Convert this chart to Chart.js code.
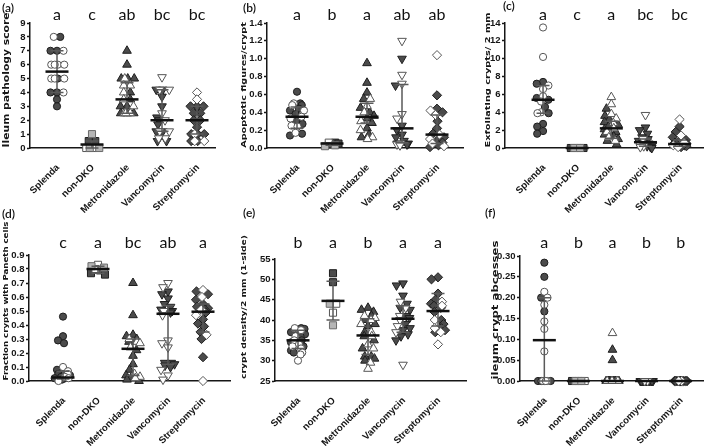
<!DOCTYPE html>
<html>
<head>
<meta charset="utf-8">
<script src="https://cdn.jsdelivr.net/npm/chart.js@4.4.1/dist/chart.umd.min.js"></script>
<style>
  html, body { margin: 0; padding: 0; background: #fff; }
  #fig { position: relative; width: 709px; height: 446px; overflow: hidden; }
  #fig canvas { position: absolute; }
  .tag { position: absolute; font: 600 12px Lato, sans-serif; color: #111; }
</style>
</head>
<body>
<div id="fig">
  <canvas id="pA"></canvas>
  <canvas id="pB"></canvas>
  <canvas id="pC"></canvas>
  <canvas id="pD"></canvas>
  <canvas id="pE"></canvas>
  <canvas id="pF"></canvas>
</div>
<script>
// ---- data ----
const categories = ["Splenda", "non-DKO", "Metronidazole", "Vancomycin", "Streptomycin"];

// (a) ileum pathology score
const pathTicks = ["0", "1", "2", "3", "4", "5", "6", "7", "8", "9"];
const pathDark = [[8, 7, 7, 5, 4, 4, 3.5, 3], [0.5, 0.5], [7, 6, 5, 5, 5, 4, 3.5, 3, 3, 2.5, 2.5, 2.5], [4.2, 4.2, 3.7, 3, 2.2, 2, 1.7, 1.2, 1.2, 0.5, 0.5], [3, 3, 3, 2.5, 2.5, 2, 2, 1.5, 1, 1, 1, 0.5, 0.5]];
const pathOpen = [[8, 7, 6, 6, 6, 6, 5, 5, 5, 4], [0, 0], [5, 4.5, 4.5, 4, 3.5, 3, 2.5, 2.5, 2.5], [5.1, 4.2, 4.2, 2.5, 2, 1.2, 1.2, 0.7, 0.7], [4, 3.5, 1, 0.5, 0.5]];
const pathGrey = [[], [1, 0, 0], [], [], []];
const pathMid = [5.5, 0.25, 3.5, 2, 2];
const pathLo = [4, 0, 2.5, 1.2, 1];
const pathHi = [7, 0.5, 4.7, 4.2, 3];
const pathLetters = ["a", "c", "ab", "bc", "bc"];

// (b) apoptotic figures per crypt
const apopTicks = ["0.0", "0.2", "0.4", "0.6", "0.8", "1.0", "1.2", "1.4"];
const apopDark = [[0.63, 0.5, 0.48, 0.44, 0.42, 0.38, 0.3, 0.27, 0.16, 0.14], [0.06, 0.05, 0.04], [0.95, 0.73, 0.62, 0.55, 0.45, 0.4, 0.36, 0.33, 0.28, 0.22, 0.15, 0.12], [1.0, 0.7, 0.25, 0.2, 0.15, 0.12, 0.08, 0.05, 0.05, 0.04], [0.59, 0.44, 0.4, 0.3, 0.22, 0.16, 0.12, 0.08, 0.06, 0.03, 0.01]];
const apopOpen = [[0.5, 0.48, 0.42, 0.35, 0.33, 0.25, 0.24, 0.17], [0.06], [0.55, 0.47, 0.4, 0.3, 0.2, 0.12, 0.1], [1.2, 0.82, 0.72, 0.38, 0.33, 0.05, 0.04, 0.03], [1.04, 0.42, 0.37, 0.15, 0.1, 0.05, 0.02]];
const apopGrey = [[], [0.02, 0.03], [], [], []];
const apopMid = [0.35, 0.05, 0.35, 0.22, 0.15];
const apopLo = [0.22, 0.03, 0.28, 0.06, 0.05];
const apopHi = [0.46, 0.06, 0.5, 0.71, 0.37];
const apopLetters = ["a", "b", "a", "ab", "ab"];

// (c) exfoliating crypts per 2 mm
const exfoTicks = ["0", "2", "4", "6", "8", "10", "12", "14"];
const exfoDark = [[7.4, 7.2, 5.6, 5.4, 4.6, 3.9, 2.7, 2.4, 1.9, 1.6], [0, 0, 0], [4.4, 3.6, 3.2, 2.9, 2.6, 2.4, 2.1, 1.8, 1.5, 1.3, 1.0, 0.8, 0.4], [2.3, 2.0, 1.6, 1.2, 1.0, 0.8, 0.6, 0.5, 0.3, 0.2, 0.1, 0], [2.4, 1.8, 1.2, 0.9, 0.7, 0.6, 0.5, 0.4, 0.3, 0.3, 0.2, 0.1]];
const exfoOpen = [[13.5, 10.2, 7, 6.6, 5.8, 5.2, 4, 3.9], [], [5.7, 4.9, 3.8, 3.3, 2.8, 2.2, 1.8, 1.2, 0.8], [3.7, 1, 0.4, 0.2, 0.1], [3.2, 1.4, 0.6, 0.3, 0.1]];
const exfoGrey = [[], [0, 0], [], [], []];
const exfoMid = [5.4, 0, 2.2, 0.65, 0.45];
const exfoLo = [3.9, 0, 1.1, 0.2, 0.2];
const exfoHi = [7, 0, 3, 1, 0.9];
const exfoLetters = ["a", "c", "a", "bc", "bc"];

// (d) fraction of crypts with Paneth cells
const paneTicks = ["0.0", "0.1", "0.2", "0.3", "0.4", "0.5", "0.6", "0.7", "0.8", "0.9"];
const paneDark = [[0.46, 0.32, 0.29, 0.27, 0.08, 0.06, 0.05, 0.04, 0.03, 0.02, 0.02, 0.01], [0.79, 0.77, 0.76], [0.7, 0.47, 0.33, 0.32, 0.3, 0.28, 0.22, 0.18, 0.12, 0.08, 0.04, 0.02, 0.01, 0], [0.64, 0.62, 0.59, 0.55, 0.53, 0.51, 0.5, 0.49, 0.13, 0.13, 0.12, 0.11, 0.1], [0.64, 0.62, 0.58, 0.55, 0.53, 0.52, 0.51, 0.49, 0.44, 0.41, 0.39, 0.35, 0.3, 0.17]];
const paneOpen = [[0.1, 0.07, 0.05, 0.03, 0.02, 0], [0.83, 0.8], [0.3, 0.28, 0.27, 0.24, 0.05, 0.03, 0.02], [0.7, 0.67, 0.5, 0.47, 0.29, 0.27, 0.24, 0.08, 0.04, 0.01], [0.65, 0.6, 0.51, 0.47, 0.33, 0]];
const paneGrey = [[], [0.82, 0.81], [], [], []];
const paneMid = [0.025, 0.8, 0.23, 0.48, 0.495];
const paneLo = [0.015, 0.77, 0.04, 0.12, 0.35];
const paneHi = [0.07, 0.82, 0.3, 0.54, 0.55];
const paneLetters = ["c", "a", "bc", "ab", "a"];

// (e) crypt density per 2 mm (1-side)
const densTicks = ["25", "30", "35", "40", "45", "50", "55"];
const densDark = [[38, 37.8, 37.5, 37, 36.5, 36, 35, 34.5, 33.5, 32.5, 32], [51.5, 49.3], [43, 42.5, 42, 41, 40, 39, 38.5, 37, 36, 35, 33, 31, 31, 30.5, 30], [49, 48.5, 46, 44, 43, 42.5, 41, 40.5, 39, 38, 37.5, 36.5, 36, 35], [50.5, 50, 46.5, 45, 44, 43.5, 43, 42, 40, 39, 38, 37.5, 37]];
const densOpen = [[38, 37.5, 36, 35, 34, 33.5, 33, 32, 31.5, 30], [44, 41.8], [41, 40.5, 40, 39, 37, 36, 34, 33, 29.5, 28], [44.5, 43, 41, 40, 38.5, 37, 29], [44.5, 43.5, 40, 38, 37, 34]];
const densGrey = [[], [44, 38.7], [], [], []];
const densMid = [35, 44.7, 36.2, 40.3, 42.2];
const densLo = [33, 40, 31.5, 37, 38.5];
const densHi = [37.5, 49.5, 40.3, 43.5, 46.5];
const densLetters = ["b", "a", "b", "a", "a"];

// (f) ileum crypt abscesses
const abscTicks = ["0.00", "0.05", "0.10", "0.15", "0.20", "0.25", "0.30"];
const abscDark = [[0.284, 0.25, 0.2, 0.167, 0, 0, 0, 0], [0, 0], [0.075, 0.05, 0, 0, 0, 0, 0, 0, 0, 0], [0, 0, 0, 0, 0, 0, 0, 0, 0, 0, 0, 0, 0, 0], [0, 0, 0, 0, 0, 0, 0, 0, 0, 0, 0, 0, 0, 0]];
const abscOpen = [[0.214, 0.2, 0.183, 0.143, 0.125, 0.071, 0, 0, 0], [0], [0.115, 0, 0, 0, 0], [0, 0], [0, 0]];
const abscGrey = [[], [0, 0], [], [], []];
const abscMid = [0.098, 0, 0, 0, 0];
const abscLo = [0, 0, 0, 0, 0];
const abscHi = [0.2, 0, 0, 0, 0];
const abscLetters = ["a", "b", "a", "b", "b"];

// ---- styling ----
const FONT = "'Liberation Sans', Arial, sans-serif";
const NARROW = "'Liberation Sans Narrow', 'Liberation Sans', Arial, sans-serif";
const TITLE_FONT = "'DejaVu Sans', sans-serif";
const INK = "#161616";
const CAT_PX = 35; // horizontal distance between groups
const SHAPES = ["circle", "rect", "triangle", "triangle", "rectRot"];
const RADII = [3.6, 5, 5, 5, 4.6];
const FILL = { dark: "#4b4b4b", open: "#ffffff", grey: "#b5b5b5" };
const EDGE = { dark: "#1e1e1e", open: "#555555", grey: "#6a6a6a" };

// box = canvas rect, plot = axis rect (left, top, right, bottom), firstX = pixel of first group
// titlePos = centre of the y title inside the canvas, titleLen = its length in px
const panels = [
  { id: "pA", tag: "(a)", tagPos: [2, 0], box: [0, 0, 236, 216], plot: [30, 23, 215, 148], firstX: 57,
    title: "Ileum pathology score", titlePos: [7, 80], titleLen: 135, letterY: 19.5,
    ticks: pathTicks, dark: pathDark, open: pathOpen, grey: pathGrey, mid: pathMid, lo: pathLo, hi: pathHi, letters: pathLetters },
  { id: "pB", tag: "(b)", tagPos: [243, 0], box: [236, 0, 236, 216], plot: [267, 23, 463, 148], firstX: 297,
    title: "Apoptotic figures/crypt", titlePos: [8, 85], titleLen: 126, letterY: 19.5,
    ticks: apopTicks, dark: apopDark, open: apopOpen, grey: apopGrey, mid: apopMid, lo: apopLo, hi: apopHi, letters: apopLetters },
  { id: "pC", tag: "(c)", tagPos: [503, -2], box: [472, 0, 237, 216], plot: [505, 23, 708, 148], firstX: 544,
    title: "Exfoliating crypts/ 2 mm", titlePos: [16, 80], titleLen: 135, letterY: 19.5,
    ticks: exfoTicks, dark: exfoDark, open: exfoOpen, grey: exfoGrey, mid: exfoMid, lo: exfoLo, hi: exfoHi, letters: exfoLetters },
  { id: "pD", tag: "(d)", tagPos: [2, 206], box: [0, 206, 236, 240], plot: [29, 255, 230, 381], firstX: 63,
    title: "Fraction crypts with Paneth cells", titlePos: [6, 95], titleLen: 159, letterY: 42,
    ticks: paneTicks, dark: paneDark, open: paneOpen, grey: paneGrey, mid: paneMid, lo: paneLo, hi: paneHi, letters: paneLetters },
  { id: "pE", tag: "(e)", tagPos: [243, 205], box: [236, 206, 236, 240], plot: [275, 259, 466, 381], firstX: 298,
    title: "crypt density/2 mm (1-side)", titlePos: [8, 101], titleLen: 144, letterY: 42,
    ticks: densTicks, dark: densDark, open: densOpen, grey: densGrey, mid: densMid, lo: densLo, hi: densHi, letters: densLetters },
  { id: "pF", tag: "(f)", tagPos: [485, 205], box: [472, 206, 237, 240], plot: [520, 256, 708, 381], firstX: 545,
    title: "ileum crypt abcesses", titlePos: [23.5, 104], titleLen: 139, letterY: 42,
    ticks: abscTicks, dark: abscDark, open: abscOpen, grey: abscGrey, mid: abscMid, lo: abscLo, hi: abscHi, letters: abscLetters },
];

/**
 * Spread points of one group sideways so markers do not sit on top of each other.
 * ys are pixel positions; returns horizontal pixel offsets.
 */
function swarm(ys, gap, maxOff) {
  const order = ys.map((_, i) => i).sort((a, b) => ys[b] - ys[a]);
  const off = new Array(ys.length).fill(0);
  const placed = [];
  order.forEach((i) => {
    let best = 0, bestDist = -1;
    for (let k = 0; k <= maxOff * 2; k++) {
      const dx = (k % 2 ? -1 : 1) * Math.ceil(k / 2) * 0.5;
      let minD = Infinity;
      placed.forEach((q) => {
        const d = Math.hypot(dx - q.x, ys[i] - q.y);
        if (d < minD) minD = d;
      });
      if (minD >= gap) { best = dx; bestDist = minD; break; }
      if (minD > bestDist) { bestDist = minD; best = dx; }
    }
    off[i] = best;
    placed.push({ x: best, y: ys[i] });
  });
  // centre rows of identical values
  const rows = {};
  ys.forEach((y, i) => { (rows[y] = rows[y] || []).push(i); });
  Object.values(rows).forEach((idx) => {
    if (idx.length < 2) return;
    const mean = idx.reduce((s, i) => s + off[i], 0) / idx.length;
    idx.forEach((i) => { off[i] -= mean; });
  });
  return off;
}

/**
 * Median line, interquartile whiskers, significance letters and the y title
 */
const summaryPlugin = {
  id: "summary",
  afterDatasetsDraw(chart, args, opts) {
    const { ctx, scales: { x, y } } = chart;
    ctx.save();
    opts.mid.forEach((m, i) => {
      const cx = x.getPixelForValue(i);
      const yl = y.getPixelForValue(opts.lo[i]);
      const yh = y.getPixelForValue(opts.hi[i]);
      const ym = y.getPixelForValue(m);
      ctx.strokeStyle = "#5a5a5a";
      ctx.lineWidth = 1.5;
      ctx.beginPath();
      ctx.moveTo(cx, yl); ctx.lineTo(cx, yh);
      ctx.moveTo(cx - 6.5, yl); ctx.lineTo(cx + 6.5, yl);
      ctx.moveTo(cx - 6.5, yh); ctx.lineTo(cx + 6.5, yh);
      ctx.stroke();
      ctx.strokeStyle = "#111";
      ctx.lineWidth = 2.5;
      ctx.beginPath();
      ctx.moveTo(cx - 11.5, ym); ctx.lineTo(cx + 11.5, ym);
      ctx.stroke();
    });
    ctx.fillStyle = "#111";
    ctx.font = "16px Lato, sans-serif";
    ctx.textAlign = "center";
    ctx.textBaseline = "alphabetic";
    opts.letters.forEach((t, i) => ctx.fillText(t, x.getPixelForValue(i), opts.letterY));

    // y-axis title: stretched to its length in the figure, glyphs kept narrow
    const t = opts.title;
    ctx.font = `bold 10px ${TITLE_FONT}`;
    const size = (10 * t.len) / ctx.measureText(t.text).width;
    ctx.font = `bold ${size.toFixed(2)}px ${TITLE_FONT}`;
    ctx.fillStyle = INK;
    ctx.translate(t.x, t.y);
    ctx.rotate(-Math.PI / 2);
    ctx.scale(1, 0.78);
    ctx.textBaseline = "middle";
    ctx.fillText(t.text, 0, 0);
    ctx.restore();
  },
};

function buildPanel(p) {
  const [bx, by, bw, bh] = p.box;
  const [left, top, right, bottom] = p.plot;
  const canvas = document.getElementById(p.id);
  canvas.width = bw;
  canvas.height = bh;
  canvas.style.left = bx + "px";
  canvas.style.top = by + "px";

  const tag = document.createElement("div");
  tag.className = "tag";
  tag.textContent = p.tag;
  tag.style.left = p.tagPos[0] + "px";
  tag.style.top = p.tagPos[1] + "px";
  document.getElementById("fig").appendChild(tag);

  const tickVals = p.ticks.map(Number);
  const yMin = tickVals[0];
  const yMax = tickVals[tickVals.length - 1];
  const pxPerUnit = (bottom - top) / (yMax - yMin);
  const xMin = -(p.firstX - left) / CAT_PX;
  const xMax = xMin + (right - left) / CAT_PX;

  const datasets = categories.map((cat, i) => {
    const pts = [];
    p.dark[i].forEach((v) => pts.push({ y: v, kind: "dark" }));
    p.open[i].forEach((v) => pts.push({ y: v, kind: "open" }));
    p.grey[i].forEach((v) => pts.push({ y: v, kind: "grey" }));
    const offs = swarm(pts.map((q) => q.y * pxPerUnit), 6.5, 14);
    return {
      label: cat,
      data: pts.map((q, k) => ({ x: i + offs[k] / CAT_PX, y: q.y, kind: q.kind })),
      pointStyle: SHAPES[i],
      pointRotation: i === 3 ? 180 : 0,
      pointRadius: RADII[i],
      pointBorderWidth: 1,
      pointBackgroundColor: (c) => (c.raw ? FILL[c.raw.kind] : "#000"),
      pointBorderColor: (c) => (c.raw ? EDGE[c.raw.kind] : "#000"),
      clip: false,
    };
  });

  return new Chart(canvas, {
    type: "scatter",
    data: { datasets },
    options: {
      responsive: false,
      animation: false,
      events: [],
      layout: { padding: { top: top - by, right: bx + bw - right, left: 0, bottom: 0 } },
      plugins: {
        legend: { display: false },
        tooltip: { enabled: false },
        summary: {
          mid: p.mid, lo: p.lo, hi: p.hi, letters: p.letters, letterY: p.letterY,
          title: { text: p.title, x: p.titlePos[0], y: p.titlePos[1], len: p.titleLen },
        },
      },
      scales: {
        x: {
          type: "linear",
          min: xMin,
          max: xMax,
          grid: { display: false, tickLength: 8 },
          border: { display: true, color: INK, width: 1.5 },
          ticks: {
            autoSkip: false,
            minRotation: 45,
            maxRotation: 45,
            padding: 6,
            labelOffset: 1,
            color: INK,
            font: { family: FONT, weight: "bold", size: 9.6 },
            callback: (v) => categories[v] ?? "",
          },
          afterBuildTicks: (s) => { s.ticks = categories.map((_, i) => ({ value: i })); },
          afterFit: (s) => { s.height = by + bh - bottom; s.paddingLeft = 0; s.paddingRight = 0; },
        },
        y: {
          min: yMin,
          max: yMax,
          grid: { drawOnChartArea: false, drawTicks: true, tickLength: 3, tickWidth: 1.5, tickColor: INK },
          border: { display: true, color: INK, width: 1.5 },
          ticks: {
            autoSkip: false,
            padding: 1.5,
            color: INK,
            font: { family: NARROW, weight: "bold", size: 9.5 },
            callback: (v, idx) => p.ticks[idx],
          },
          afterBuildTicks: (s) => { s.ticks = tickVals.map((v) => ({ value: v })); },
          afterFit: (s) => { s.width = left - bx; s.paddingTop = 0; s.paddingBottom = 0; },
        },
      },
    },
    plugins: [summaryPlugin],
  });
}

panels.forEach(buildPanel);
</script>
</body>
</html>
